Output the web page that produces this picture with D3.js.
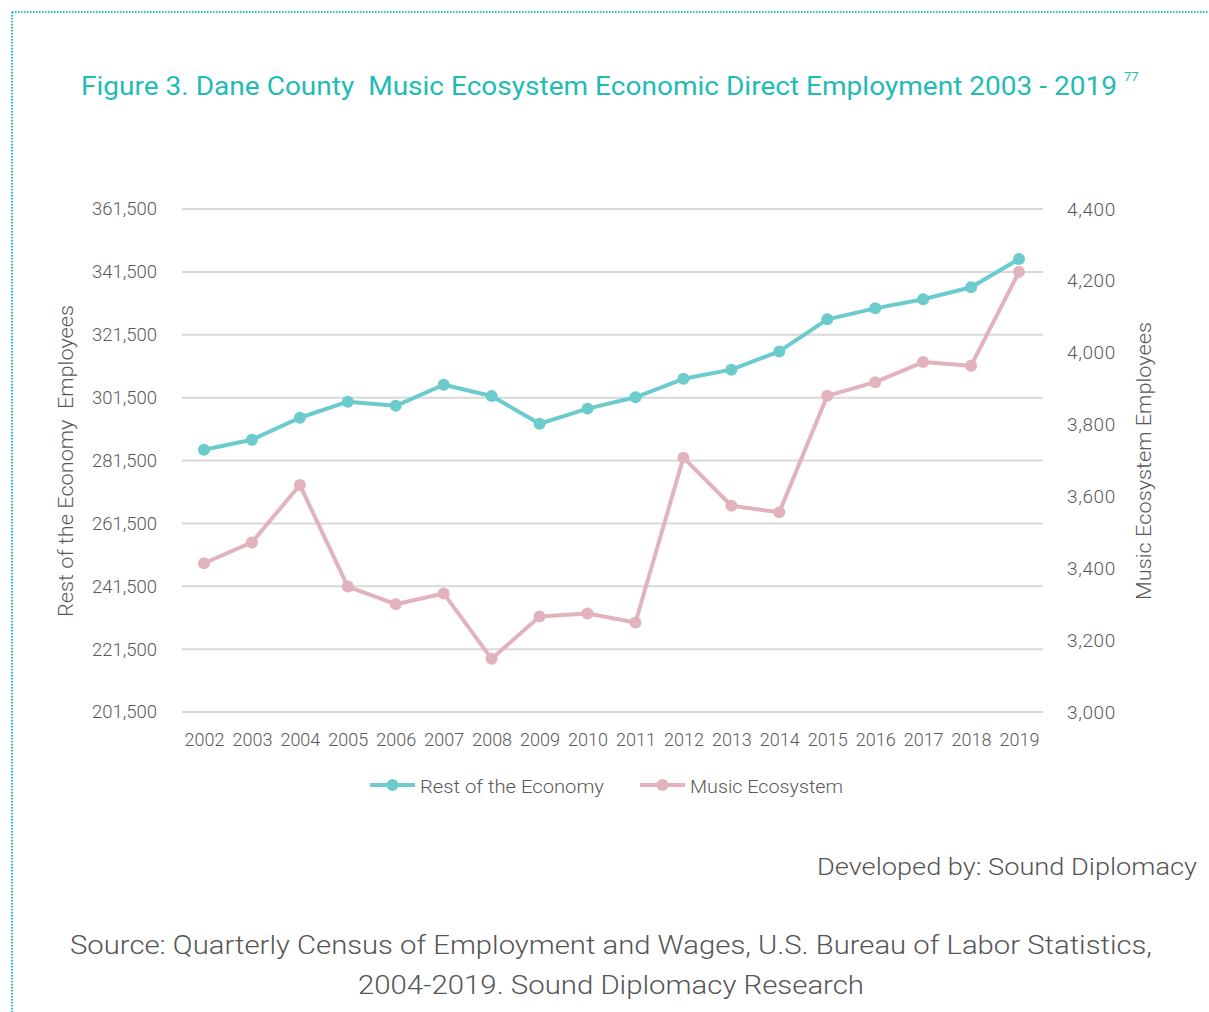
<!DOCTYPE html>
<html>
<head>
<meta charset="utf-8">
<script src="https://cdn.jsdelivr.net/npm/d3@7/dist/d3.min.js"></script>
<style>
  html, body { margin: 0; padding: 0; background: #ffffff; }
  svg { display: block; }
  text { font-family: Roboto, "Noto Sans", sans-serif; white-space: pre; }
</style>
</head>
<body>
<svg id="chart" width="1209" height="1012"></svg>
<script>
// Years on the category axis
const years = ["2002","2003","2004","2005","2006","2007","2008","2009","2010",
               "2011","2012","2013","2014","2015","2016","2017","2018","2019"];

// Rest of the economy, direct employment (left axis)
const restOfEconomy = [284900, 288100, 295100, 300200, 298900, 305600, 302000, 293200, 298000,
                       301600, 307500, 310400, 316200, 326400, 329900, 332800, 336600, 345600];

// Music ecosystem, direct employment (right axis)
const musicEcosystem = [3414, 3472, 3632, 3349, 3300, 3330, 3148, 3266, 3274,
                        3249, 3708, 3574, 3556, 3880, 3918, 3974, 3964, 4225];

// Axis ticks
const leftTicks = [201500, 221500, 241500, 261500, 281500, 301500, 321500, 341500, 361500];
const rightTicks = [3000, 3200, 3400, 3600, 3800, 4000, 4200, 4400];

const seriesNames = ["Rest of the Economy", "Music Ecosystem"];
const teal = "#6ccbcc";
const pink = "#e2b3bd";
const textGray = "#595959";

const svg = d3.select("#chart");

// Dotted frame on the top and left edges
const frame = svg.append("g")
  .attr("stroke", "#20bdb6").attr("stroke-width", 2)
  .attr("stroke-dasharray", "1.5,1.5").attr("fill", "none");
frame.append("line").attr("x1", 12).attr("y1", 12).attr("x2", 1209).attr("y2", 12);
frame.append("line").attr("x1", 12).attr("y1", 12).attr("x2", 12).attr("y2", 1012);

// Title
svg.append("text")
  .attr("x", 81).attr("y", 95)
  .attr("fill", "#1fbcb5")
  .attr("font-size", 26)
  .attr("textLength", 1036).attr("lengthAdjust", "spacingAndGlyphs")
  .text("Figure 3. Dane County  Music Ecosystem Economic Direct Employment 2003 - 2019");
svg.append("text")
  .attr("x", 1124).attr("y", 81)
  .attr("fill", "#1fbcb5").attr("font-size", 13)
  .text("77");

// Scales
const plotLeft = 180, plotRight = 1043;
const x = d3.scalePoint().domain(years).range([plotLeft, plotRight]).padding(0.5);
const yLeft = d3.scaleLinear().domain([201500, 361500]).range([712, 209]);
const yRight = d3.scaleLinear().domain([3000, 4400]).range([712, 209]);

// Gridlines from the left axis
svg.append("g")
  .selectAll("line")
  .data(leftTicks)
  .join("line")
  .attr("x1", 182).attr("x2", 1043)
  .attr("y1", d => yLeft(d)).attr("y2", d => yLeft(d))
  .attr("stroke", "#d9d9d9").attr("stroke-width", 2);

const fmt = d3.format(",");

// Left axis labels
const axL = svg.append("g").attr("transform", `translate(157,0)`)
  .call(d3.axisLeft(yLeft).tickValues(leftTicks).tickFormat(fmt).tickSize(0).tickPadding(0));
axL.select(".domain").remove();
axL.selectAll("text").attr("font-size", 18.5).attr("fill", textGray)
  .attr("font-family", "Roboto, sans-serif").attr("font-weight", 300);

// Right axis labels
const axR = svg.append("g").attr("transform", `translate(1067,0)`)
  .call(d3.axisRight(yRight).tickValues(rightTicks).tickFormat(fmt).tickSize(0).tickPadding(0));
axR.select(".domain").remove();
axR.selectAll("text").attr("font-size", 19).attr("fill", textGray)
  .attr("font-family", "Roboto, sans-serif").attr("font-weight", 300)
  .attr("letter-spacing", "0.6px");

// Bottom axis labels
const axB = svg.append("g").attr("transform", `translate(0,733)`)
  .call(d3.axisBottom(x).tickSize(0).tickPadding(0));
axB.select(".domain").remove();
axB.selectAll("text").attr("font-size", 18).attr("fill", textGray)
  .attr("font-family", "Roboto, sans-serif").attr("font-weight", 300)
  .attr("dy", "0.71em");

// Axis titles
svg.append("text")
  .attr("transform", "translate(73,461) rotate(-90)")
  .attr("text-anchor", "middle").attr("font-size", 20).attr("fill", textGray)
  .attr("font-weight", 300)
  .attr("textLength", 312).attr("lengthAdjust", "spacingAndGlyphs")
  .text("Rest of the Economy  Employees");
svg.append("text")
  .attr("transform", "translate(1151,461) rotate(-90)")
  .attr("text-anchor", "middle").attr("font-size", 20).attr("fill", textGray)
  .attr("font-weight", 300)
  .attr("textLength", 278).attr("lengthAdjust", "spacingAndGlyphs")
  .text("Music Ecosystem Employees");

// Lines and markers
function drawSeries(values, yScale, color) {
  const line = d3.line().x((d, i) => x(years[i])).y(d => yScale(d));
  svg.append("path")
    .datum(values)
    .attr("d", line)
    .attr("fill", "none").attr("stroke", color)
    .attr("stroke-width", 4).attr("stroke-linejoin", "round");
  svg.append("g")
    .selectAll("circle")
    .data(values)
    .join("circle")
    .attr("cx", (d, i) => x(years[i]))
    .attr("cy", d => yScale(d))
    .attr("r", 6)
    .attr("fill", color);
}
drawSeries(musicEcosystem, yRight, pink);
drawSeries(restOfEconomy, yLeft, teal);

// Legend
const legendItems = [
  { name: seriesNames[0], color: teal, x: 370, w: 184 },
  { name: seriesNames[1], color: pink, x: 640, w: 153 }
];
const lg = svg.append("g");
legendItems.forEach(it => {
  lg.append("line").attr("x1", it.x).attr("x2", it.x + 45)
    .attr("y1", 785).attr("y2", 785)
    .attr("stroke", it.color).attr("stroke-width", 4);
  lg.append("circle").attr("cx", it.x + 22.5).attr("cy", 785).attr("r", 6).attr("fill", it.color);
  lg.append("text").attr("x", it.x + 50).attr("y", 786).attr("dy", "0.35em")
    .attr("font-size", 19).attr("fill", textGray).attr("font-weight", 300)
    .attr("textLength", it.w).attr("lengthAdjust", "spacingAndGlyphs")
    .text(it.name);
});

// Credits and source
svg.append("text")
  .attr("x", 1197).attr("y", 875)
  .attr("text-anchor", "end").attr("font-size", 24).attr("fill", "#555555")
  .attr("font-family", "'Open Sans', sans-serif").attr("font-weight", 300)
  .attr("textLength", 380).attr("lengthAdjust", "spacingAndGlyphs")
  .text("Developed by: Sound Diplomacy");
svg.append("text")
  .attr("x", 611).attr("y", 954)
  .attr("text-anchor", "middle").attr("font-size", 26).attr("fill", "#555555")
  .attr("font-family", "'Open Sans', sans-serif").attr("font-weight", 300)
  .attr("textLength", 1082).attr("lengthAdjust", "spacingAndGlyphs")
  .text("Source: Quarterly Census of Employment and Wages, U.S. Bureau of Labor Statistics,");
svg.append("text")
  .attr("x", 611).attr("y", 994)
  .attr("text-anchor", "middle").attr("font-size", 26).attr("fill", "#555555")
  .attr("font-family", "'Open Sans', sans-serif").attr("font-weight", 300)
  .attr("textLength", 506).attr("lengthAdjust", "spacingAndGlyphs")
  .text("2004-2019. Sound Diplomacy Research");
</script>
</body>
</html>
